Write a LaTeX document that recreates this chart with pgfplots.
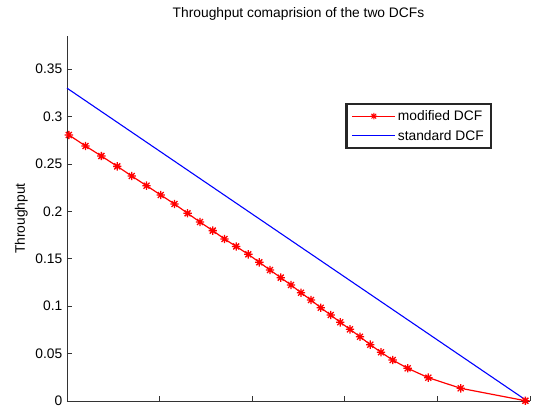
\documentclass[border=0pt]{standalone}
\usepackage{fontspec}
\setmainfont{Liberation Sans}
\usepackage{pgfplots}
\pgfplotsset{compat=1.18}

% eight-armed asterisk marker
\pgfdeclareplotmark{mstar}{%
  \pgfpathmoveto{\pgfqpoint{-\pgfplotmarksize}{0pt}}%
  \pgfpathlineto{\pgfqpoint{\pgfplotmarksize}{0pt}}%
  \pgfpathmoveto{\pgfqpoint{0pt}{-\pgfplotmarksize}}%
  \pgfpathlineto{\pgfqpoint{0pt}{\pgfplotmarksize}}%
  \pgfpathmoveto{\pgfqpoint{-0.7071\pgfplotmarksize}{-0.7071\pgfplotmarksize}}%
  \pgfpathlineto{\pgfqpoint{0.7071\pgfplotmarksize}{0.7071\pgfplotmarksize}}%
  \pgfpathmoveto{\pgfqpoint{-0.7071\pgfplotmarksize}{0.7071\pgfplotmarksize}}%
  \pgfpathlineto{\pgfqpoint{0.7071\pgfplotmarksize}{-0.7071\pgfplotmarksize}}%
  \pgfusepathqstroke
}

\pgfplotstableread{
x y
0.02 0.2806
0.20 0.2690
0.371 0.2584
0.543 0.2475
0.699 0.2373
0.859 0.2271
1.012 0.2173
1.161 0.2078
1.302 0.1980
1.436 0.1888
1.574 0.1797
1.701 0.1709
1.827 0.1630
1.958 0.1547
2.077 0.1463
2.192 0.1382
2.308 0.1301
2.419 0.1224
2.527 0.1142
2.635 0.1065
2.740 0.0984
2.848 0.0907
2.951 0.0830
3.056 0.0756
3.164 0.0678
3.275 0.0594
3.391 0.0514
3.517 0.0432
3.679 0.0345
3.902 0.0246
4.252 0.0134
4.950 0.0003
}\modified

\pgfplotstableread{
x y
0.0 0.330
4.97 0.000
}\standard

\begin{document}
\begin{tikzpicture}[font=\fontsize{13.8}{16}\selectfont]
\begin{axis}[
  name=ax,
  at={(0,0)}, anchor=south west,
  scale only axis, width=463pt, height=365pt,
  xmin=0, xmax=5, ymin=0, ymax=0.385,
  axis lines*=left,
  axis line style={black!80, line width=0.8pt},
  tick align=inside,
  major tick length=5pt,
  tick style={black!80, line width=0.8pt},
  xtick={1,2,3,4,5}, xticklabels={},
  ytick={0,0.05,0.1,0.15,0.2,0.25,0.3,0.35},
  yticklabels={0,0.05,0.1,0.15,0.2,0.25,0.3,0.35},
  yticklabel style={inner xsep=0pt, xshift=-4.5pt},
  title={Throughput comaprision of the two DCFs},
  title style={at={(axis description cs:0.5,1)}, anchor=base, yshift=12pt},
  ylabel={Throughput},
  ylabel style={at={(axis description cs:-0.0911,0.5)}, anchor=base},
  clip=false,
  legend style={name=leg, at={(axis description cs:0.9158,0.8137)},
    anchor=north east, draw=none, inner xsep=5pt, inner ysep=4.5pt,
    row sep=4pt, cells={anchor=west}},
  legend cell align=left,
  legend image code/.code={\draw[mark repeat=2,mark phase=2,#1,
      mark size=3.3pt, mark options={line width=1pt}]
    plot coordinates {(0pt,0.3pt) (21.5pt,0.3pt) (43pt,0.3pt)};},
]
\addplot[red, line width=1.2pt, mark=mstar, mark size=4.2pt,
  mark options={line width=1.3pt}] table {\modified};
\addlegendentry{modified DCF}
\addplot[blue, line width=1.1pt] table {\standard};
\addlegendentry{standard DCF}
\end{axis}
% heavy frame around the legend
\draw[black!85, line width=2.2pt] (leg.south west) rectangle (leg.north east);
\pgfresetboundingbox
\path[use as bounding box] ([xshift=-67pt,yshift=-7pt]ax.south west)
  rectangle ([xshift=11pt,yshift=36pt]ax.north east);
\end{tikzpicture}
\end{document}
